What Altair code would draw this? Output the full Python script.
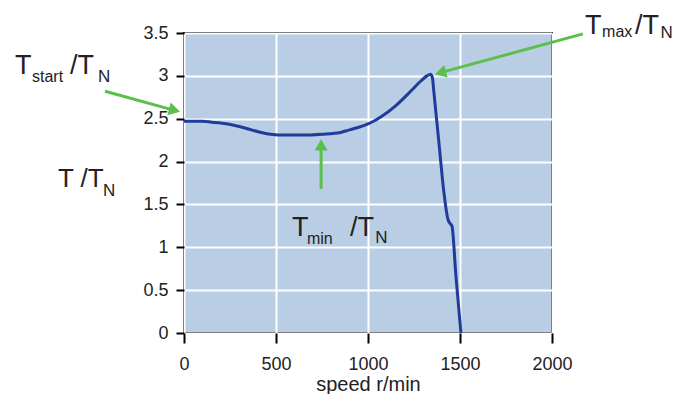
import math
import altair as alt
import pandas as pd

# Torque-speed curve
speed = [0, 100, 150, 200, 300, 400, 470, 550, 650, 750, 850, 900, 950, 1000,
         1030, 1069, 1150, 1232, 1287, 1320, 1340, 1350, 1358, 1385, 1412,
         1434, 1445, 1456, 1478, 1505]
torque = [2.47, 2.47, 2.46, 2.45, 2.41, 2.35, 2.32, 2.31, 2.31, 2.32, 2.34,
          2.37, 2.40, 2.44, 2.47, 2.52, 2.65, 2.82, 2.94, 3.00, 3.02, 2.98,
          2.81, 2.23, 1.65, 1.33, 1.28, 1.25, 0.66, 0.0]

x_ticks = [0, 500, 1000, 1500, 2000]
y_ticks = [0, 0.5, 1, 1.5, 2, 2.5, 3, 3.5]

# Annotation arrows: tail -> tip, in data units
arrow_tail_x = [-429, 2168, 745]
arrow_tail_y = [2.82, 3.49, 1.68]
arrow_tip_x = [-22, 1364, 745]
arrow_tip_y = [2.58, 3.02, 2.26]

# Annotation text pieces (main letters and subscripts)
label_text = ["T", "start", "/T", "N",
              "T", "max", "/T", "N",
              "T", "min", "/T", "N",
              "T /T", "N"]
label_x = [-918, -826, -620, -468,
           2179, 2272, 2451, 2590,
           587, 668, 902, 1040,
           -685, -440]
label_y = [3.02, 2.93, 3.02, 2.93,
           3.49, 3.45, 3.49, 3.44,
           1.13, 1.04, 1.13, 1.05,
           1.70, 1.60]
label_size = [27, 16, 27, 17,
              27, 16, 27, 17,
              27, 16, 27, 17,
              26, 17]

W, H = 368, 300
kx = W / 2000.0
ky = H / 3.5
HEAD = 170
r = math.sqrt(HEAD) / 2
h = math.sqrt(3) / 2 * r

rows = []
for tx, ty, hx, hy in zip(arrow_tail_x, arrow_tail_y, arrow_tip_x, arrow_tip_y):
    dxp = (hx - tx) * kx
    dyp = -(hy - ty) * ky
    L = math.hypot(dxp, dyp)
    ux, uy = dxp / L, dyp / L
    ang = math.degrees(math.atan2(ux, -uy)) % 360
    cx = hx - h * ux / kx
    cy = hy + h * uy / ky
    rows.append(dict(tx=tx, ty=ty, cx=cx, cy=cy, angle=ang))
arrows = pd.DataFrame(rows)

curve = pd.DataFrame({"speed": speed, "torque": torque})
labels = pd.DataFrame({"text": label_text, "x": label_x, "y": label_y, "size": label_size})

FONT = "Liberation Sans"
GREEN = "#5bbf4b"

xscale = alt.Scale(domain=[0, 2000], nice=False, zero=False)
yscale = alt.Scale(domain=[0, 3.5], nice=False, zero=False)

base_x = alt.X("speed:Q", scale=xscale,
               axis=alt.Axis(values=x_ticks, title="speed r/min", grid=True,
                             gridColor="white", gridWidth=2, gridOpacity=1,
                             domain=False, tickColor="black", tickWidth=2,
                             tickSize=10, labelFontSize=18, labelColor="#222222",
                             labelPadding=12, titleFontSize=20, titleFontWeight="normal",
                             titleColor="#222222", titlePadding=1, labelFont=FONT,
                             titleFont=FONT, labelFlush=False, format="d"))
base_y = alt.Y("torque:Q", scale=yscale,
               axis=alt.Axis(values=y_ticks, title=None, grid=True,
                             gridColor="white", gridWidth=2, gridOpacity=1,
                             domain=False, tickColor="black", tickWidth=2,
                             tickSize=8, labelFontSize=18, labelColor="#222222",
                             labelPadding=8, format="~g", labelFont=FONT,
                             labelFlush=False))

line = alt.Chart(curve).mark_line(color="#1f3c9a", strokeWidth=3,
                                  interpolate="monotone").encode(x=base_x, y=base_y)

shafts = alt.Chart(arrows).mark_rule(color=GREEN, strokeWidth=3).encode(
    x=alt.X("tx:Q", scale=xscale), y=alt.Y("ty:Q", scale=yscale),
    x2="cx:Q", y2="cy:Q")

heads = alt.Chart(arrows).mark_point(shape="triangle-up", filled=True, opacity=1,
                                     color=GREEN, size=HEAD).encode(
    x=alt.X("cx:Q", scale=xscale), y=alt.Y("cy:Q", scale=yscale),
    angle=alt.Angle("angle:Q", scale=None))

texts = alt.Chart(labels).mark_text(align="left", baseline="alphabetic",
                                    font=FONT, color="#222222").encode(
    x=alt.X("x:Q", scale=xscale), y=alt.Y("y:Q", scale=yscale),
    text="text:N", size=alt.Size("size:Q", scale=None))

chart = alt.layer(line, shafts, heads, texts).properties(
    width=W, height=H,
    autosize=alt.AutoSizeParams(type="none"),
    padding={"left": 176, "top": 25, "right": 120, "bottom": 61},
).configure_view(fill="#b9cde5", stroke="black", strokeWidth=2)

chart.save("out.html", embed_options={"renderer": "svg", "actions": False})
